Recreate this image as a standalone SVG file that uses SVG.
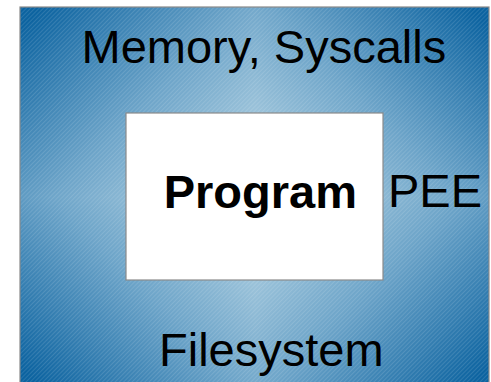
<svg xmlns="http://www.w3.org/2000/svg" width="491" height="382" viewBox="0 0 491 382">
  <style>
    .lbl { font-family: "Liberation Sans", Arial, sans-serif; font-size: 47px; fill: #000; }
    .bold { font-weight: bold; }
    .q { shape-rendering: crispEdges; }
    .frame { fill: none; stroke: #8a8a8a; stroke-width: 1.2; }
  </style>
  <defs>
    <linearGradient id="gTL" gradientUnits="userSpaceOnUse" x1="255" y1="197" x2="52.5" y2="-5.5">
      <stop offset="0" stop-color="#bcd8e6"/>
      <stop offset="0.5" stop-color="#6ea5c9"/>
      <stop offset="1" stop-color="#0c63a0"/>
    </linearGradient>
    <linearGradient id="gTR" href="#gTL" x1="255" y1="197" x2="457.5" y2="-5.5"/>
    <linearGradient id="gBR" href="#gTL" x1="255" y1="197" x2="457.5" y2="399.5"/>
    <linearGradient id="gBL" href="#gTL" x1="255" y1="197" x2="52.5" y2="399.5"/>
    <pattern id="hatch" width="3" height="3" patternUnits="userSpaceOnUse" patternTransform="rotate(-45)">
      <rect x="0" y="0" width="3" height="1" fill="#ffffff" fill-opacity="0.12"/>
    </pattern>
  </defs>

  <g id="environment">
    <rect class="q" x="20" y="7" width="235" height="190" fill="url(#gTL)"/>
    <rect class="q" x="255" y="7" width="234" height="190" fill="url(#gTR)"/>
    <rect class="q" x="255" y="197" width="234" height="190" fill="url(#gBR)"/>
    <rect class="q" x="20" y="197" width="235" height="190" fill="url(#gBL)"/>
    <rect x="20" y="7" width="469" height="380" fill="url(#hatch)"/>
    <rect class="frame" x="20" y="7" width="469" height="380"/>
    <text class="lbl" x="81.5" y="63">Memory, Syscalls</text>
    <text class="lbl" x="388" y="207">PEE</text>
    <text class="lbl" x="159" y="366">Filesystem</text>
  </g>

  <g id="program">
    <rect x="126" y="113" width="257" height="167" fill="#ffffff" stroke="#8a8a8a" stroke-width="1.2"/>
    <text class="lbl bold" x="163.7" y="208">Program</text>
  </g>

  <g id="connectors"></g>
</svg>
